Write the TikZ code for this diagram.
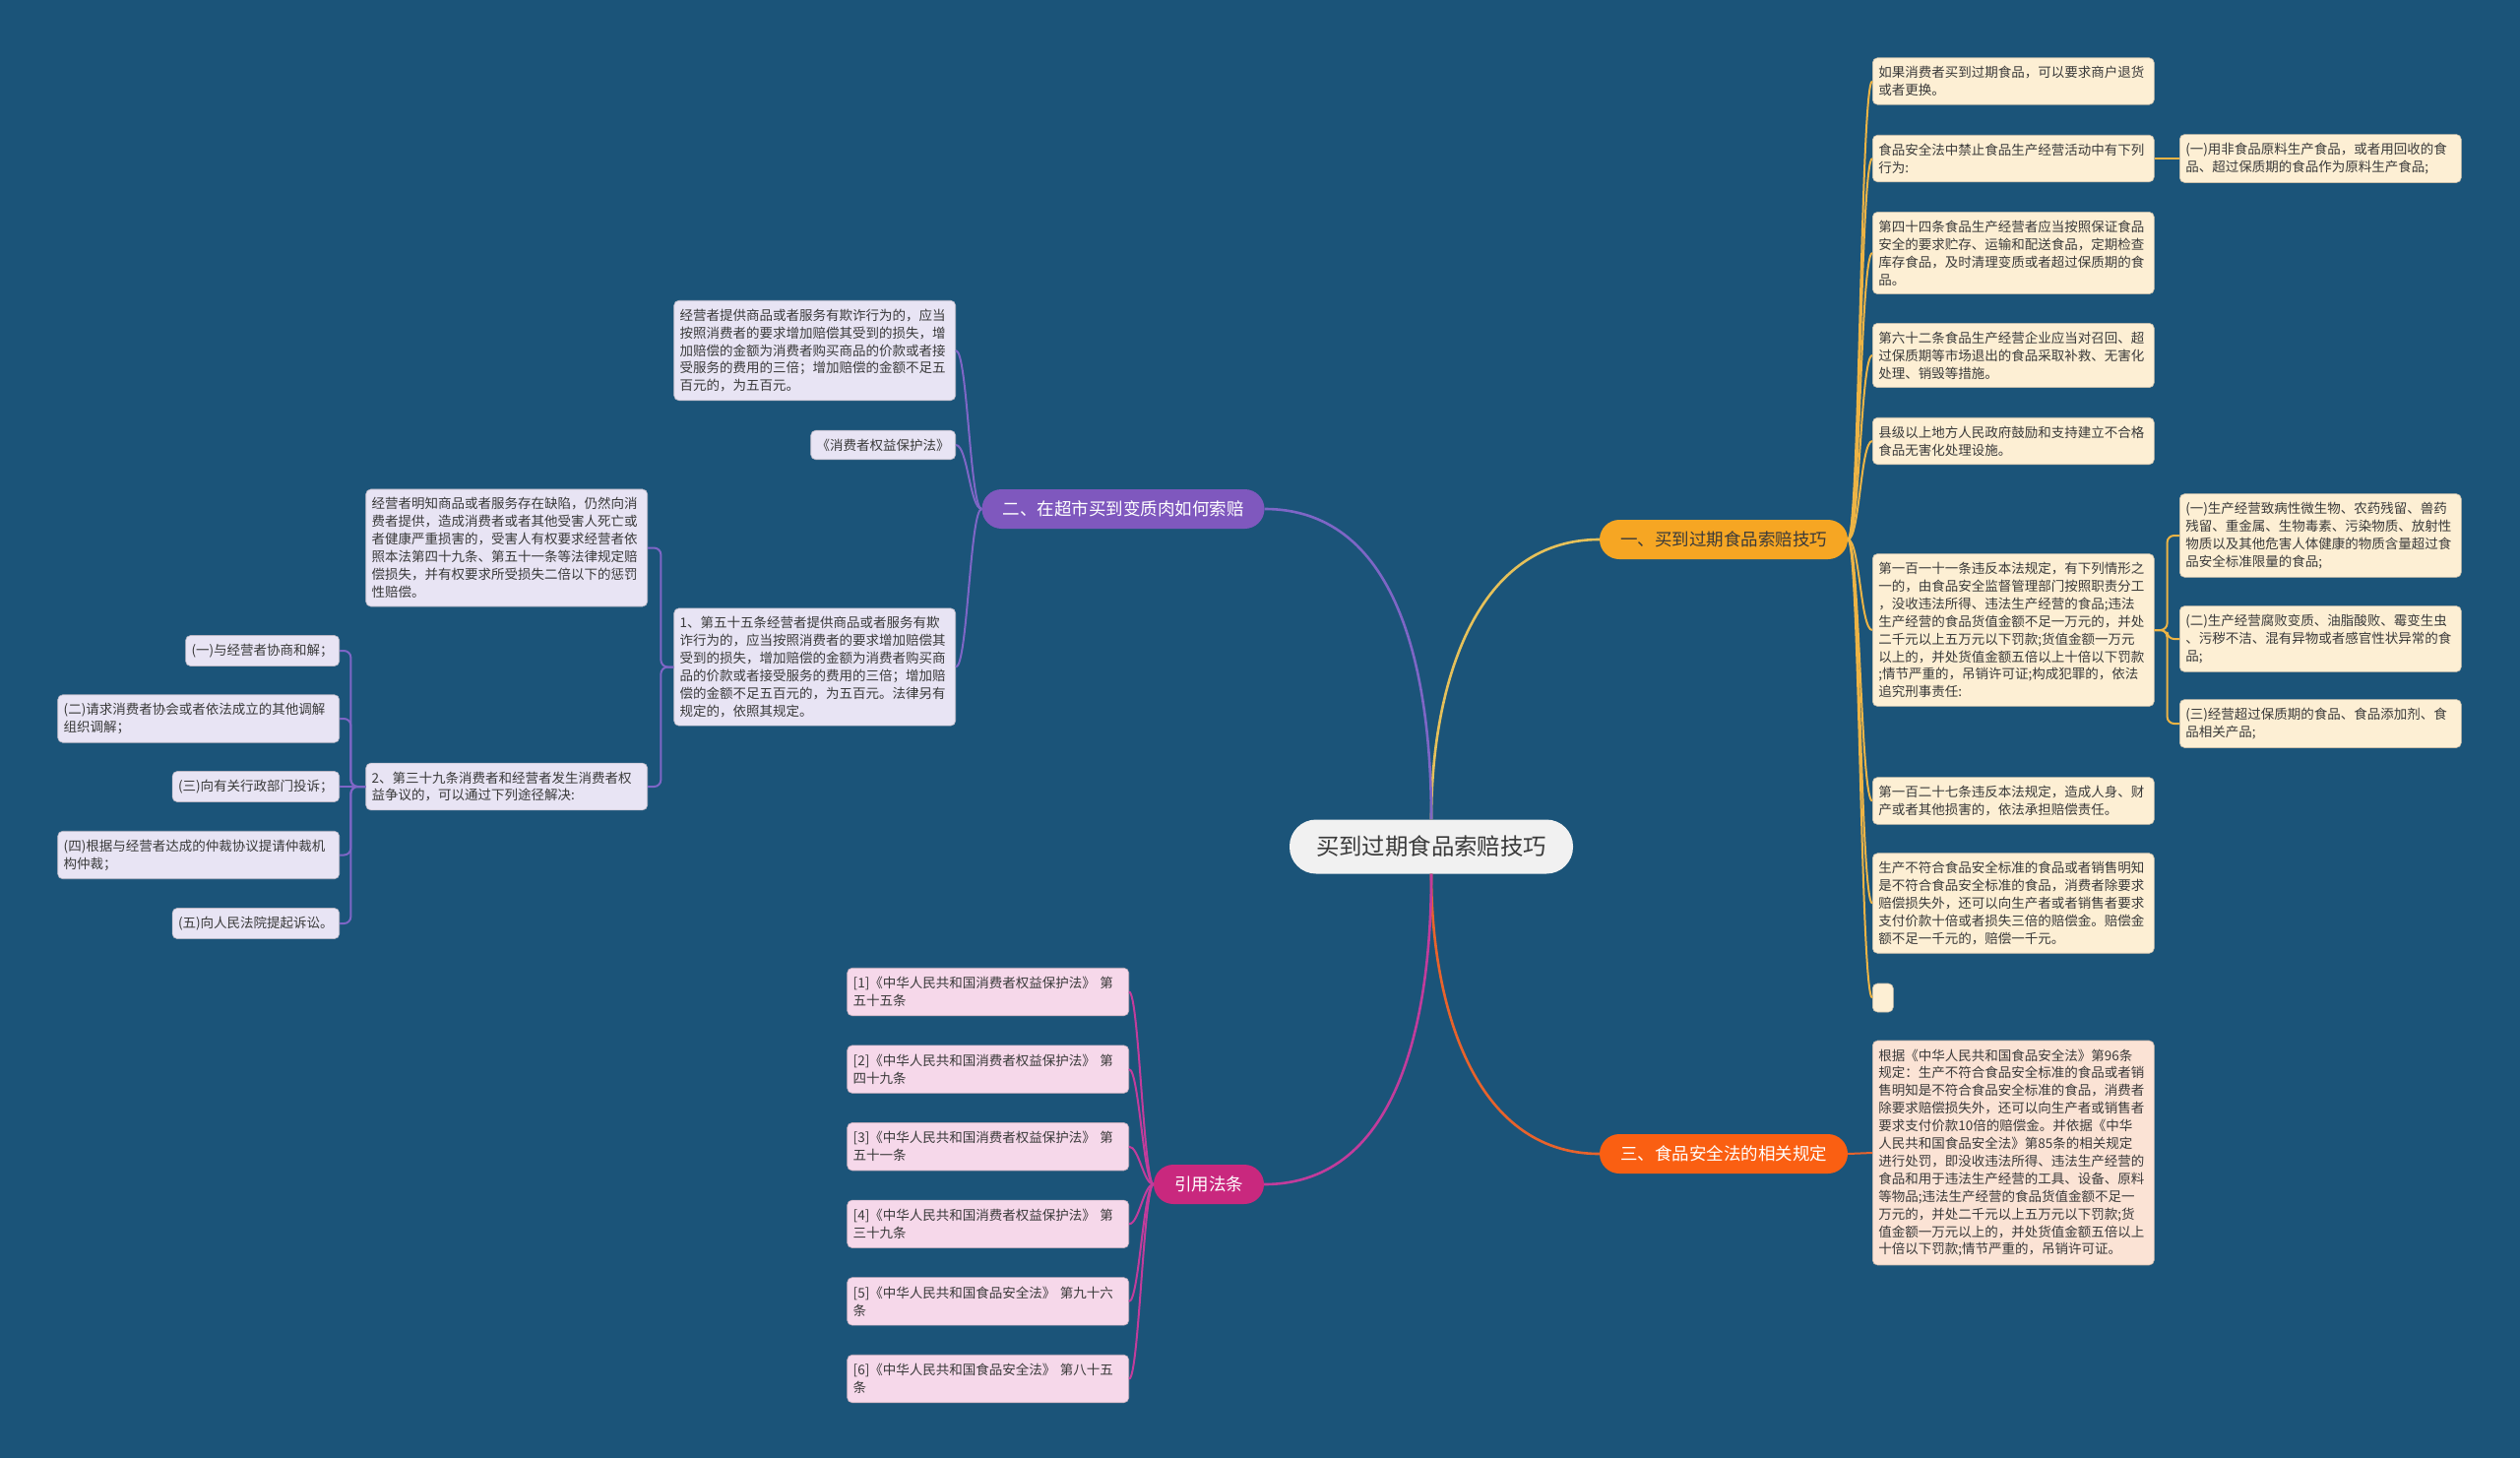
\documentclass[tikz,border=0pt]{standalone}
\usepackage{fontspec}
\setmainfont{Noto Sans CJK SC}
\usetikzlibrary{positioning}

\definecolor{bgblue}{HTML}{1B5479}
\definecolor{rootfill}{HTML}{F1F1F1}
\definecolor{inkdark}{HTML}{3A3A3A}
\definecolor{orgfill}{HTML}{F6A623}
\definecolor{orgleaf}{HTML}{FDEFD4}
\definecolor{orgline}{HTML}{EDB445}
\definecolor{orgmain}{HTML}{E6C15A}
\definecolor{redfill}{HTML}{FA5F12}
\definecolor{redleaf}{HTML}{FBE3D5}
\definecolor{redline}{HTML}{E8632C}
\definecolor{purfill}{HTML}{7F58BE}
\definecolor{purleaf}{HTML}{E8E4F4}
\definecolor{purline}{HTML}{7E66C6}
\definecolor{magfill}{HTML}{C9287E}
\definecolor{magleaf}{HTML}{F6D8EA}
\definecolor{magline}{HTML}{C23C9C}

\begin{document}
\begin{tikzpicture}[
    x=1pt, y=1pt,
    node distance=29.5pt,
    root/.style={rectangle, rounded corners=27pt, fill=rootfill, minimum height=55pt, inner xsep=27pt, text=inkdark, font=\fontsize{23.4}{28}\selectfont},
    topic/.style={rectangle, rounded corners=20pt, minimum height=40pt, inner xsep=21pt, font=\fontsize{17.5}{21}\selectfont},
    leaf/.style={rectangle, rounded corners=5pt, inner xsep=6pt, inner ysep=8.5pt, align=left, line width=0.6pt, text=inkdark, font=\fontsize{13.5}{17.9}\selectfont},
    wide/.style={text width=274pt},
    oleaf/.style={leaf, fill=orgleaf, draw=orgleaf!80!black},
    rleaf/.style={leaf, fill=redleaf, draw=redleaf!80!black},
    pleaf/.style={leaf, fill=purleaf, draw=purleaf!80!black},
    mleaf/.style={leaf, fill=magleaf, draw=magleaf!80!black},
    link/.style={line width=2pt},
    trunk/.style={line width=2.6pt},
    rlink/.style={out=0, in=180, distance=#1},
    llink/.style={out=180, in=0, distance=#1},
]

\fill[bgblue] (0,0) rectangle (2560,-1481);
\useasboundingbox (0,0) rectangle (2560,-1481);

\node[root] (root) at (1454,-860) {买到过期食品索赔技巧};
\node[topic, fill=orgfill, text=inkdark] (br1) at (1751,-548) {一、买到过期食品索赔技巧};
\node[topic, fill=purfill, text=white] (br2) at (1141,-517) {二、在超市买到变质肉如何索赔};
\node[topic, fill=redfill, text=white] (br3) at (1751,-1172) {三、食品安全法的相关规定};
\node[topic, fill=magfill, text=white] (br4) at (1228,-1203) {引用法条};

\node[oleaf, wide, anchor=west] (a1) at (1902,-82.5) {如果消费者买到过期食品，可以要求商户退货\\或者更换。};
\node[oleaf, wide, anchor=west] (a2) at (1902,-161) {食品安全法中禁止食品生产经营活动中有下列\\行为:};
\node[oleaf, wide, anchor=west] (a3) at (1902,-257) {第四十四条食品生产经营者应当按照保证食品\\安全的要求贮存、运输和配送食品，定期检查\\库存食品，及时清理变质或者超过保质期的食\\品。};
\node[oleaf, wide, anchor=west] (a4) at (1902,-361) {第六十二条食品生产经营企业应当对召回、超\\过保质期等市场退出的食品采取补救、无害化\\处理、销毁等措施。};
\node[oleaf, wide, anchor=west] (a5) at (1902,-448) {县级以上地方人民政府鼓励和支持建立不合格\\食品无害化处理设施。};
\node[oleaf, wide, anchor=west] (a6) at (1902,-640) {第一百一十一条违反本法规定，有下列情形之\\一的，由食品安全监督管理部门按照职责分工\\，没收违法所得、违法生产经营的食品;违法\\生产经营的食品货值金额不足一万元的，并处\\二千元以上五万元以下罚款;货值金额一万元\\以上的，并处货值金额五倍以上十倍以下罚款\\;情节严重的，吊销许可证;构成犯罪的，依法\\追究刑事责任:};
\node[oleaf, wide, anchor=west] (a7) at (1902,-813.5) {第一百二十七条违反本法规定，造成人身、财\\产或者其他损害的，依法承担赔偿责任。};
\node[oleaf, wide, anchor=west] (a8) at (1902,-917.5) {生产不符合食品安全标准的食品或者销售明知\\是不符合食品安全标准的食品，消费者除要求\\赔偿损失外，还可以向生产者或者销售者要求\\支付价款十倍或者损失三倍的赔偿金。赔偿金\\额不足一千元的，赔偿一千元。};
\node[oleaf, anchor=west, minimum width=21pt, minimum height=29pt] (a9) at (1902,-1013.5) {};

\node[oleaf, wide, anchor=west] (ban) at (2214,-161) {(一)用非食品原料生产食品，或者用回收的食\\品、超过保质期的食品作为原料生产食品;};
\node[oleaf, wide, anchor=west] (bad1) at (2214,-544) {(一)生产经营致病性微生物、农药残留、兽药\\残留、重金属、生物毒素、污染物质、放射性\\物质以及其他危害人体健康的物质含量超过食\\品安全标准限量的食品;};
\node[oleaf, wide, anchor=west] (bad2) at (2214,-649) {(二)生产经营腐败变质、油脂酸败、霉变生虫\\、污秽不洁、混有异物或者感官性状异常的食\\品;};
\node[oleaf, wide, anchor=west] (bad3) at (2214,-735) {(三)经营超过保质期的食品、食品添加剂、食\\品相关产品;};

\node[rleaf, wide, anchor=west] (law96) at (1902,-1171) {根据《中华人民共和国食品安全法》第96条\\规定：生产不符合食品安全标准的食品或者销\\售明知是不符合食品安全标准的食品，消费者\\除要求赔偿损失外，还可以向生产者或销售者\\要求支付价款10倍的赔偿金。并依据《中华\\人民共和国食品安全法》第85条的相关规定\\进行处罚，即没收违法所得、违法生产经营的\\食品和用于违法生产经营的工具、设备、原料\\等物品;违法生产经营的食品货值金额不足一\\万元的，并处二千元以上五万元以下罚款;货\\值金额一万元以上的，并处货值金额五倍以上\\十倍以下罚款;情节严重的，吊销许可证。};

\node[pleaf, wide, anchor=east] (fraud) at (971,-356) {经营者提供商品或者服务有欺诈行为的，应当\\按照消费者的要求增加赔偿其受到的损失，增\\加赔偿的金额为消费者购买商品的价款或者接\\受服务的费用的三倍；增加赔偿的金额不足五\\百元的，为五百元。};
\node[pleaf, anchor=east] (cpl) at (971,-452) {《消费者权益保护法》};
\node[pleaf, wide, anchor=east] (art55) at (971,-677.5) {1、第五十五条经营者提供商品或者服务有欺\\诈行为的，应当按照消费者的要求增加赔偿其\\受到的损失，增加赔偿的金额为消费者购买商\\品的价款或者接受服务的费用的三倍；增加赔\\偿的金额不足五百元的，为五百元。法律另有\\规定的，依照其规定。};
\node[pleaf, wide, anchor=east] (defect) at (658,-556.5) {经营者明知商品或者服务存在缺陷，仍然向消\\费者提供，造成消费者或者其他受害人死亡或\\者健康严重损害的，受害人有权要求经营者依\\照本法第四十九条、第五十一条等法律规定赔\\偿损失，并有权要求所受损失二倍以下的惩罚\\性赔偿。};
\node[pleaf, wide, anchor=east] (art39) at (658,-799) {2、第三十九条消费者和经营者发生消费者权\\益争议的，可以通过下列途径解决:};

\node[pleaf, anchor=east] (way1) at (345,-661) {(一)与经营者协商和解；};
\node[pleaf, wide, anchor=east] (way2) at (345,-730) {(二)请求消费者协会或者依法成立的其他调解\\组织调解；};
\node[pleaf, anchor=east] (way3) at (345,-799) {(三)向有关行政部门投诉；};
\node[pleaf, wide, anchor=east] (way4) at (345,-868.5) {(四)根据与经营者达成的仲裁协议提请仲裁机\\构仲裁；};
\node[pleaf, anchor=east] (way5) at (345,-938) {(五)向人民法院提起诉讼。};

\node[mleaf, wide, anchor=east, minimum height=48.5pt] (ref1) at (1147,-1007.5) {[1]《中华人民共和国消费者权益保护法》 第\\五十五条};
\node[mleaf, wide, minimum height=48.5pt] (ref2) [below=of ref1] {[2]《中华人民共和国消费者权益保护法》 第\\四十九条};
\node[mleaf, wide, minimum height=48.5pt] (ref3) [below=of ref2] {[3]《中华人民共和国消费者权益保护法》 第\\五十一条};
\node[mleaf, wide, minimum height=48.5pt] (ref4) [below=of ref3] {[4]《中华人民共和国消费者权益保护法》 第\\三十九条};
\node[mleaf, wide, minimum height=48.5pt] (ref5) [below=of ref4] {[5]《中华人民共和国食品安全法》 第九十六\\条};
\node[mleaf, wide, minimum height=48.5pt] (ref6) [below=of ref5] {[6]《中华人民共和国食品安全法》 第八十五\\条};

\draw[trunk, orgmain] (root.north) to[out=90, in=180] (br1.west);
\draw[trunk, purline] (root.north) to[out=90, in=0] (br2.east);
\draw[trunk, redline] (root.south) to[out=-90, in=180] (br3.west);
\draw[trunk, magline] (root.south) to[out=-90, in=0] (br4.east);

\foreach \i in {1,...,9}
  \draw[link, orgline] (br1.east) to[rlink=12pt] (a\i.west);
\draw[link, orgline] (a2.east) -- (ban.west);
\foreach \i in {1,2,3}
  \draw[link, orgline, rounded corners=7pt] (a6.east) -- ++(13,0) |- (bad\i.west);
\draw[link, redline] (br3.east) -- (law96.west);

\foreach \k in {fraud, cpl, art55}
  \draw[link, purline] (br2.west) to[llink=12pt] (\k.east);
\foreach \k in {defect, art39}
  \draw[link, purline, rounded corners=7pt] (art55.west) -- ++(-13,0) |- (\k.east);
\foreach \i in {1,2,4,5}
  \draw[link, purline, rounded corners=7pt] (art39.west) -- ++(-15,0) |- (way\i.east);
\draw[link, purline] (art39.west) -- (way3.east);

\foreach \i in {1,...,6}
  \draw[link, magline] (br4.west) to[llink=10pt] (ref\i.east);

\end{tikzpicture}
\end{document}
